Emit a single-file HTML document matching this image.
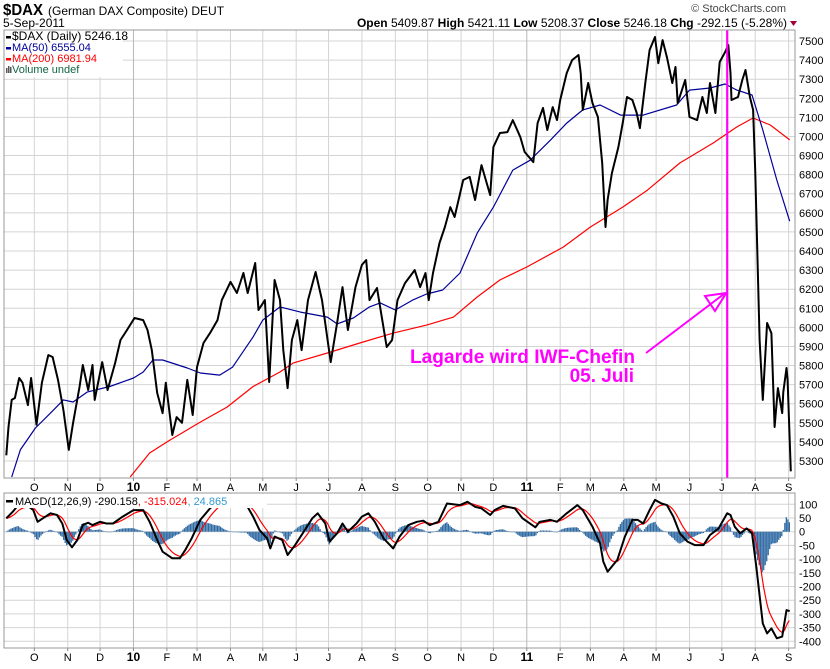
<!DOCTYPE html>
<html><head><meta charset="utf-8">
<style>
html,body{margin:0;padding:0;background:#fff;}
svg{display:block;font-family:"Liberation Sans",Arial,sans-serif;}
</style></head>
<body>
<svg id="chart" width="830" height="669" viewBox="0 0 830 669" xmlns="http://www.w3.org/2000/svg">
  <g>
    <text x="3" y="15" font-size="16" font-weight="bold" textLength="40" lengthAdjust="spacingAndGlyphs">$DAX</text>
    <text x="48" y="15" font-size="12">(German DAX Composite) DEUT</text>
    <text x="3" y="27" font-size="12">5-Sep-2011</text>
    <text x="786" y="12" font-size="11" fill="#444" text-anchor="end">© StockCharts.com</text>
    <text x="787" y="27" font-size="12" text-anchor="end"><tspan font-weight="bold">Open</tspan> 5409.87 <tspan font-weight="bold">High</tspan> 5421.11 <tspan font-weight="bold">Low</tspan> 5208.37 <tspan font-weight="bold">Close</tspan> 5246.18 <tspan font-weight="bold">Chg</tspan> -292.15 (-5.28%)</text>
    <path d="M790 21 L797 21 L793.5 26 Z" fill="#a00030"/>
  </g>
  <g id="main"></g>
  <g id="macd"></g>
</svg>
<script>
// ---- price data (calendar day offset from 1-Sep-2009) ----
const priceDays = [4,6,9,12,16,19,24,27,32,37,43,47,52,57,62,66,72,75,80,84,86,93,98,105,110,116,123,131,135,139,144,149,152,158,162,167,172,177,181,187,193,200,204,212,218,224,228,235,238,244,248,253,258,261,265,269,274,278,284,291,297,305,311,316,321,328,334,338,341,348,357,362,367,374,383,388,393,396,400,406,411,416,420,428,434,439,445,453,456,462,469,474,481,485,493,497,502,506,511,515,518,524,529,535,537,539,544,548,553,557,560,562,566,572,576,580,585,589,592,597,601,606,609,613,617,622,625,627,634,638,645,650,654,657,662,666,671,674,676,677,683,687,690,694,697,699,703,706,710,714,717,720,724,725,728,729,732];
const priceVals = [5330,5478,5620,5630,5735,5710,5593,5735,5490,5710,5855,5845,5725,5567,5358,5500,5690,5803,5672,5803,5620,5818,5672,5813,5934,5986,6049,6038,5986,5881,5656,5551,5710,5436,5530,5500,5725,5541,5792,5918,5970,6038,6143,6238,6180,6285,6180,6337,6091,6143,5714,6248,6143,5881,5682,5934,6038,5881,6143,6290,6143,5818,6023,6211,5986,6211,6327,6353,6143,6206,5897,5934,6143,6232,6300,6211,6285,6143,6285,6442,6526,6630,6578,6772,6788,6667,6850,6693,6945,7018,7023,7086,6997,6919,6866,7070,7149,7034,7154,7086,7191,7332,7400,7427,7332,7139,7280,7175,7102,6861,6526,6667,6808,6945,7070,7207,7191,7123,7044,7280,7453,7521,7384,7505,7416,7280,7364,7175,7296,7102,7086,7207,7123,7280,7123,7390,7442,7479,7332,7191,7207,7296,7348,7207,7139,6824,5934,5620,6023,5970,5478,5682,5551,5661,5787,5724,5246];
const ma50Days = [9,17,31,45,57,66,79,100,122,131,140,149,172,184,202,214,233,242,258,277,302,311,326,341,351,365,381,394,409,425,441,456,474,490,509,524,539,555,574,595,626,638,657,671,682,696,706,719,731];
const ma50Vals = [5216,5358,5473,5551,5620,5609,5661,5690,5735,5766,5829,5829,5787,5761,5750,5792,5950,6038,6107,6080,6054,6018,6049,6107,6128,6091,6143,6175,6196,6285,6494,6630,6824,6875,6981,7070,7139,7165,7112,7112,7165,7243,7254,7275,7243,7217,7034,6772,6556];
const ma200Days = [119,137,156,184,209,233,258,270,302,332,363,394,419,441,462,487,521,546,576,599,629,660,682,697,713,731];
const ma200Vals = [5216,5342,5410,5504,5583,5690,5766,5813,5866,5918,5970,6012,6054,6159,6248,6316,6421,6526,6630,6719,6861,6966,7050,7097,7060,6982];
// ---- MACD data ----
const macdDays = [4,10,15,24,29,33,45,51,56,60,65,70,75,80,84,91,97,103,112,122,131,137,144,149,158,165,170,176,184,193,202,227,233,239,246,249,253,260,265,272,279,288,293,300,304,311,316,321,329,334,340,346,354,363,369,377,385,
391,397,405,413,425,432,439,445,453,457,465,476,483,495,499,509,515,524,534,539,548,555,558,562,571,578,585,590,595,601,606,612,617,623,629,636,643,651,657,665,673,676,680,685,691,696,700,706,710,714,719,724,728,731];
const macdVals = [49,73,97,94,79,36,67,61,30,-30,-57,-30,24,33,24,36,30,30,55,79,79,36,-30,-73,-97,-97,-67,-24,43,85,115,97,55,6,-24,-61,-18,-30,-85,-49,-6,49,67,30,-36,-6,30,0,30,55,67,36,-24,-61,-18,24,36,
40,24,36,103,97,109,91,85,61,79,94,85,49,16,36,43,36,67,97,79,18,-43,-109,-146,-103,-18,43,43,30,79,116,103,97,55,-6,-36,-49,-49,-12,12,67,61,18,-6,12,-6,-128,-335,-371,-353,-389,-383,-286,-290];
const priceTicks = [5300,5400,5500,5600,5700,5800,5900,6000,6100,6200,6300,6400,6500,6600,6700,6800,6900,7000,7100,7200,7300,7400,7500];
const macdTicks = [100,50,0,-50,-100,-150,-200,-250,-300,-350,-400];
const monthLabels = ["O","N","D","10","F","M","A","M","J","J","A","S","O","N","D","11","F","M","A","M","J","J","A","S"];
const monthDays = [30,61,91,122,153,181,212,242,273,303,334,365,395,426,456,487,518,546,577,607,638,668,699,730];
const eventDay = 673;

const NS = "http://www.w3.org/2000/svg";
function el(tag, attrs, parent, txt){const e=document.createElementNS(NS,tag);for(const k in attrs)e.setAttribute(k,attrs[k]);if(txt!==undefined)e.textContent=txt;parent.appendChild(e);return e;}
const L=4,R=795,MT=30,MB=478,QT=493,QB=648;
const xOf = d => 2 + d*1.0776;
const yP = p => 461 - (p-5300)*0.1909;
const yM = v => 531.7 - v*0.274;

const main=document.getElementById('main');
const macd=document.getElementById('macd');
const svg=document.getElementById('chart');
const defs=el('defs',{},svg);
const c1=el('clipPath',{id:'cm'},defs);el('rect',{x:L,y:MT,width:R-L,height:MB-MT},c1);
const c2=el('clipPath',{id:'cq'},defs);el('rect',{x:L,y:QT,width:R-L,height:QB-QT},c2);

function panelGrid(g,top,bot,ticks,yf){
  const bg=el('rect',{x:L,y:top,width:R-L,height:bot-top,fill:'#fff',stroke:'none'},g);
  
  ticks.forEach(t=>{const y=yf(t);
    const ln=el('line',{x1:L,x2:R,y1:y,y2:y,stroke:'#d4d4d4','stroke-width':1},g);
    
    const tx=el('text',{x:R+4,y:y+4,'font-size':11},g,String(t));
    
  });
  monthDays.forEach((d,i)=>{const x=xOf(d);const yr=monthLabels[i].length>1;
    const ln=el('line',{x1:x,x2:x,y1:top,y2:bot,stroke:yr?'#b8b8b8':'#d4d4d4','stroke-width':1},g);
    
    const tk=el('line',{x1:x,x2:x,y1:bot,y2:bot+3,stroke:'#888'},g);
    
    const tx=el('text',{x:x,y:bot+13,'font-size':yr?12:11,'font-weight':yr?'bold':'normal','text-anchor':'middle'},g,monthLabels[i]);
    
  });
}
function poly(g,days,vals,xf,yf,color,w,clip,name){
  const pts=days.map((d,i)=>xf(d).toFixed(1)+','+yf(vals[i]).toFixed(1)).join(' ');
  const p=el('polyline',{points:pts,fill:'none',stroke:color,'stroke-width':w,'stroke-linejoin':'round','clip-path':'url(#'+clip+')'},g);
  
  return p;
}
panelGrid(main,MT,MB,priceTicks,yP);
poly(main,ma200Days,ma200Vals,xOf,yP,'#ff0000',1.2,'cm','ma200-line');
poly(main,ma50Days,ma50Vals,xOf,yP,'#000099',1.2,'cm','ma50-line');
poly(main,priceDays,priceVals,xOf,yP,'#000',2,'cm','price-line');
const ex=xOf(eventDay);
const ev=el('line',{x1:ex,x2:ex,y1:MT,y2:MB,stroke:'#ff00ff','stroke-width':2.2},main);

const ar=el('line',{x1:646,y1:353,x2:ex-2,y2:293,stroke:'#ff00ff','stroke-width':2},main);

const ah=el('polygon',{points:(ex-1)+',293 705,296 715,311',fill:'none',stroke:'#ff00ff','stroke-width':2},main);

const a1=el('text',{x:410,y:363,'font-size':19,'font-weight':'bold',fill:'#ff00ff',textLength:225,lengthAdjust:'spacingAndGlyphs'},main,'Lagarde wird IWF-Chefin');

const a2=el('text',{x:634,y:382,'font-size':19,'font-weight':'bold',fill:'#ff00ff','text-anchor':'end'},main,'05. Juli');

el('rect',{x:L,y:MT,width:R-L,height:MB-MT,fill:'none',stroke:'#999'},main);
const lg=el('g',{},main);
el('rect',{x:5,y:31,width:118,height:46,fill:'#fff'},lg);
[['$DAX (Daily) 5246.18','#000',40],['MA(50) 6555.04','#000099',51],['MA(200) 6981.94','#ff0000',62]].forEach(r=>{
  el('rect',{x:6,y:r[2]-4,width:5,height:2.5,fill:r[1]},lg);
  const t=el('text',{x:12,y:r[2],'font-size':r[2]==40?12:11,fill:r[1]},lg,r[0]);
  
});
el('rect',{x:6,y:68,width:1.5,height:5,fill:'#555'},lg);el('rect',{x:8,y:66,width:1.5,height:7,fill:'#555'},lg);el('rect',{x:10,y:67,width:1.5,height:6,fill:'#555'},lg);
const vt=el('text',{x:12,y:73,'font-size':11,fill:'#116644'},lg,'Volume undef');


panelGrid(macd,QT,QB,macdTicks,yM);
const step=1.4, sd=[], sm=[];
for(let d=macdDays[0]; d<=macdDays[macdDays.length-1]+0.01; d+=step){
  let j=0; while(j<macdDays.length-2 && macdDays[j+1]<d) j++;
  const t=Math.min(1,Math.max(0,(d-macdDays[j])/(macdDays[j+1]-macdDays[j])));
  sd.push(d); sm.push(macdVals[j]+t*(macdVals[j+1]-macdVals[j]));
}
const sig=[]; let e=sm[0]; sm.forEach(v=>{e=e+0.2*(v-e);sig.push(e);});
const hg=el('g',{'clip-path':'url(#cq)'},macd);
sd.forEach((d,i)=>{const h=sm[i]-sig[i];const y0=yM(0),y1=yM(h);
  const b=el('rect',{x:xOf(d)-0.6,y:Math.min(y0,y1),width:1.3,height:Math.max(0.5,Math.abs(y1-y0)),fill:'#2f6aa3'},hg);
  
});
poly(macd,sd,sig,xOf,yM,'#ff0000',1.2,'cq','signal-line');
poly(macd,macdDays,macdVals,xOf,yM,'#000',2,'cq','macd-line');
el('rect',{x:L,y:QT,width:R-L,height:QB-QT,fill:'none',stroke:'#999'},macd);
const ml=el('g',{},macd);
el('rect',{x:5,y:494,width:262,height:14,fill:'#fff'},ml);
el('rect',{x:6,y:500,width:7,height:2.5,fill:'#000'},ml);
const mt=el('text',{x:15,y:505,'font-size':11},ml);

el('tspan',{},mt,'MACD(12,26,9) -290.158');
el('tspan',{fill:'#ff0000'},mt,', -315.024');
el('tspan',{fill:'#3399cc'},mt,', 24.865');
</script>
</body></html>
